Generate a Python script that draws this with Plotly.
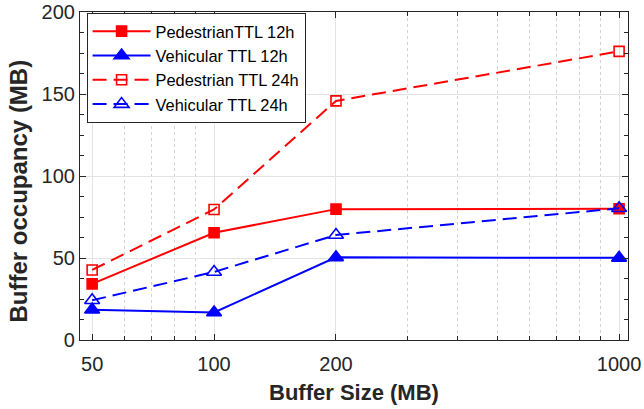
import plotly.graph_objects as go

buffer_sizes = [50, 100, 200, 1000]
ped_12h = [34.2, 65.4, 79.8, 80.0]
veh_12h = [18.5, 16.8, 50.4, 50.1]
ped_24h = [42.7, 79.6, 145.8, 176.0]
veh_24h = [24.2, 41.5, 64.0, 80.3]

x_ticks = [50, 100, 200, 1000]
x_minor = [60, 70, 80, 90, 300, 400, 500, 600, 700, 800, 900]
y_ticks = [0, 50, 100, 150, 200]

x_title = "Buffer Size (MB)"
y_title = "Buffer occupancy (MB)"

RED = "#ff0000"
BLUE = "#0000ff"
AX = "#262626"
FONT = "Liberation Sans, Arial, Helvetica, sans-serif"

fig = go.Figure()

def add(y, name, color, dash, symbol, size):
    fig.add_trace(go.Scatter(
        x=buffer_sizes, y=y, name=name, mode="lines+markers",
        line=dict(color=color, width=2, dash=dash),
        marker=dict(symbol=symbol, size=size, color=color,
                    line=dict(color=color, width=1.6)),
    ))

add(ped_12h, "PedestrianTTL 12h", RED, "solid", "square", 10)
add(veh_12h, "Vehicular TTL 12h", BLUE, "solid", "triangle-up", 13)
add(ped_24h, "Pedestrian TTL 24h", RED, "14px,7px", "square-open", 10)
add(veh_24h, "Vehicular TTL 24h", BLUE, "14px,7px", "triangle-up-open", 13)

PLOT_W = 644 - 80 - 16
PLOT_H = 409 - 12 - 69

fig.update_layout(
    width=644, height=409,
    margin=dict(l=80, r=16, t=12, b=69),
    paper_bgcolor="white", plot_bgcolor="white",
    font=dict(family=FONT, color=AX, size=19),
    showlegend=True,
    legend=dict(
        x=0.012, y=0.997, xanchor="left", yanchor="top",
        bgcolor="white", bordercolor=AX, borderwidth=1,
        font=dict(size=16.4, color="#000000"),
        itemwidth=58, tracegroupgap=0,
    ),
    annotations=[
        dict(text="<b>" + x_title + "</b>", xref="paper", yref="paper",
             x=(354 - 80) / PLOT_W, y=(340 - 392) / PLOT_H,
             xanchor="center", yanchor="middle", showarrow=False,
             font=dict(size=22, color=AX, family=FONT)),
        dict(text="<b>" + y_title + "</b>", xref="paper", yref="paper",
             x=(18.5 - 80) / PLOT_W, y=(340 - 191) / PLOT_H, textangle=-90,
             xanchor="center", yanchor="middle", showarrow=False,
             font=dict(size=24, color=AX, family=FONT)),
    ],
)

fig.update_xaxes(
    type="log", range=[1.669, 3.022],
    tickmode="array", tickvals=x_ticks, ticktext=[str(v) for v in x_ticks],
    ticks="inside", ticklen=6, tickcolor=AX, tickwidth=1,
    showline=True, linecolor=AX, linewidth=1.2, mirror="allticks",
    showgrid=True, gridcolor="#e3e3e3", gridwidth=1,
    zeroline=False, automargin=False, ticklabelstandoff=6,
    minor=dict(tickmode="array", tickvals=x_minor, ticks="inside", ticklen=4,
               tickcolor=AX, showgrid=True, gridcolor="#d2d2d2",
               griddash="dot", gridwidth=1),
    tickfont=dict(size=20, color=AX),
)

fig.update_yaxes(
    range=[0, 200],
    tickmode="array", tickvals=y_ticks,
    ticks="inside", ticklen=6, tickcolor=AX, tickwidth=1,
    showline=True, linecolor=AX, linewidth=1.2, mirror="allticks",
    showgrid=True, gridcolor="#e3e3e3", gridwidth=1,
    zeroline=False, automargin=False,
    minor=dict(tickmode="linear", tick0=0, dtick=12.5, ticks="inside", ticklen=4,
               tickcolor=AX, showgrid=False),
    tickfont=dict(size=20, color=AX),
)

fig.write_html("out.html")
